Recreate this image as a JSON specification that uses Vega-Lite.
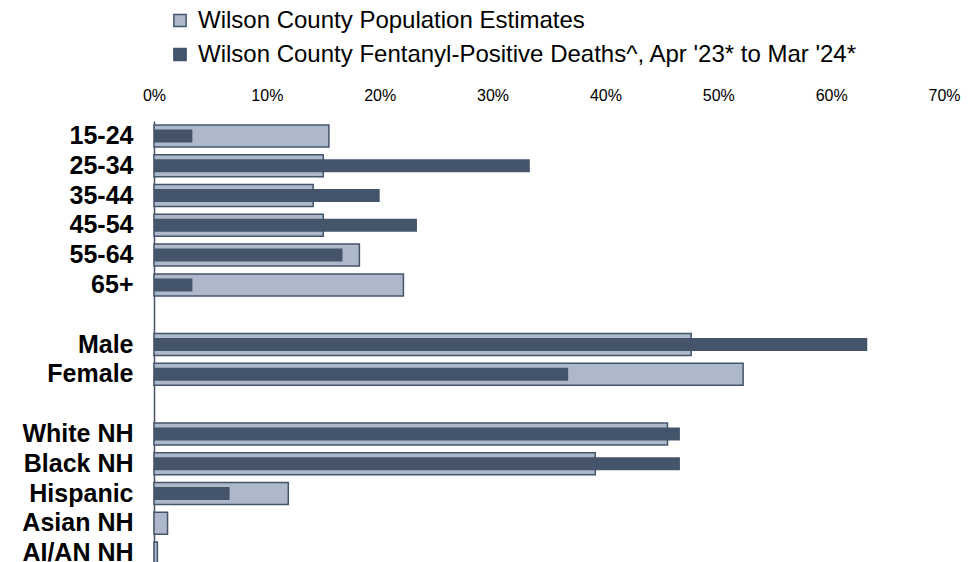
{
  "$schema": "https://vega.github.io/schema/vega-lite/v6.json",
  "autosize": {"type": "none"},
  "width": 790,
  "height": 447,
  "padding": {"left": 154, "top": 121, "right": 36, "bottom": 0},
  "background": "white",
  "config": {
    "view": {"stroke": null},
    "font": "Liberation Sans"
  },
  "data": {
    "values": [
      {"group": "15-24", "series": "Wilson County Population Estimates", "value": 15.5},
      {"group": "25-34", "series": "Wilson County Population Estimates", "value": 15.0},
      {"group": "35-44", "series": "Wilson County Population Estimates", "value": 14.1},
      {"group": "45-54", "series": "Wilson County Population Estimates", "value": 15.0},
      {"group": "55-64", "series": "Wilson County Population Estimates", "value": 18.2},
      {"group": "65+", "series": "Wilson County Population Estimates", "value": 22.1},
      {"group": "Male", "series": "Wilson County Population Estimates", "value": 47.6},
      {"group": "Female", "series": "Wilson County Population Estimates", "value": 52.2},
      {"group": "White NH", "series": "Wilson County Population Estimates", "value": 45.5},
      {"group": "Black NH", "series": "Wilson County Population Estimates", "value": 39.1},
      {"group": "Hispanic", "series": "Wilson County Population Estimates", "value": 11.9},
      {"group": "Asian NH", "series": "Wilson County Population Estimates", "value": 1.2},
      {"group": "AI/AN NH", "series": "Wilson County Population Estimates", "value": 0.3},
      {"group": "15-24", "series": "Wilson County Fentanyl-Positive Deaths^, Apr '23* to Mar '24*", "value": 3.4},
      {"group": "25-34", "series": "Wilson County Fentanyl-Positive Deaths^, Apr '23* to Mar '24*", "value": 33.3},
      {"group": "35-44", "series": "Wilson County Fentanyl-Positive Deaths^, Apr '23* to Mar '24*", "value": 20.0},
      {"group": "45-54", "series": "Wilson County Fentanyl-Positive Deaths^, Apr '23* to Mar '24*", "value": 23.3},
      {"group": "55-64", "series": "Wilson County Fentanyl-Positive Deaths^, Apr '23* to Mar '24*", "value": 16.7},
      {"group": "65+", "series": "Wilson County Fentanyl-Positive Deaths^, Apr '23* to Mar '24*", "value": 3.4},
      {"group": "Male", "series": "Wilson County Fentanyl-Positive Deaths^, Apr '23* to Mar '24*", "value": 63.2},
      {"group": "Female", "series": "Wilson County Fentanyl-Positive Deaths^, Apr '23* to Mar '24*", "value": 36.7},
      {"group": "White NH", "series": "Wilson County Fentanyl-Positive Deaths^, Apr '23* to Mar '24*", "value": 46.6},
      {"group": "Black NH", "series": "Wilson County Fentanyl-Positive Deaths^, Apr '23* to Mar '24*", "value": 46.6},
      {"group": "Hispanic", "series": "Wilson County Fentanyl-Positive Deaths^, Apr '23* to Mar '24*", "value": 6.7},
      {"group": "Asian NH", "series": "Wilson County Fentanyl-Positive Deaths^, Apr '23* to Mar '24*", "value": 0},
      {"group": "AI/AN NH", "series": "Wilson County Fentanyl-Positive Deaths^, Apr '23* to Mar '24*", "value": 0}
    ]
  },
  "encoding": {
    "y": {
      "field": "group",
      "type": "nominal",
      "scale": {
        "domain": ["15-24", "25-34", "35-44", "45-54", "55-64", "65+", " ", "Male", "Female", "  ", "White NH", "Black NH", "Hispanic", "Asian NH", "AI/AN NH"],
        "paddingInner": 0,
        "paddingOuter": 0
      },
      "axis": {
        "title": null,
        "ticks": false,
        "labelFontSize": 25,
        "labelFontWeight": "bold",
        "labelColor": "#000000",
        "labelPadding": 21,
        "labelFont": "Liberation Sans",
        "domainColor": "#44546a",
        "domainWidth": 1.5,
        "labelLimit": 300
      }
    },
    "x": {
      "field": "value",
      "type": "quantitative",
      "scale": {"domain": [0, 70], "nice": false},
      "axis": {
        "orient": "top",
        "title": null,
        "values": [0, 10, 20, 30, 40, 50, 60, 70],
        "labelExpr": "datum.value + '%'",
        "ticks": false,
        "tickSize": 0,
        "domain": false,
        "grid": false,
        "labelFontSize": 16,
        "labelColor": "#000000",
        "labelPadding": 18,
        "labelFlush": false
      }
    },
    "color": {
      "field": "series",
      "type": "nominal",
      "scale": {
        "domain": ["Wilson County Population Estimates", "Wilson County Fentanyl-Positive Deaths^, Apr '23* to Mar '24*"],
        "range": ["#adb9ca", "#44546a"]
      },
      "legend": {
        "title": null,
        "orient": "none",
        "legendX": 14,
        "legendY": -112.5,
        "symbolType": "square",
        "symbolSize": 150,
        "symbolStrokeColor": "#44546a",
        "symbolStrokeWidth": 1.5,
        "labelFontSize": 24,
        "labelColor": "#000000",
        "labelOffset": 6,
        "rowPadding": 10,
        "padding": 0,
        "labelLimit": 900
      }
    }
  },
  "layer": [
    {
      "transform": [{"filter": "datum.series == 'Wilson County Population Estimates'"}],
      "mark": {"type": "bar", "size": 22, "stroke": "#44546a", "strokeWidth": 1.5}
    },
    {
      "transform": [{"filter": "datum.series != 'Wilson County Population Estimates'"}],
      "mark": {"type": "bar", "size": 13}
    }
  ]
}
